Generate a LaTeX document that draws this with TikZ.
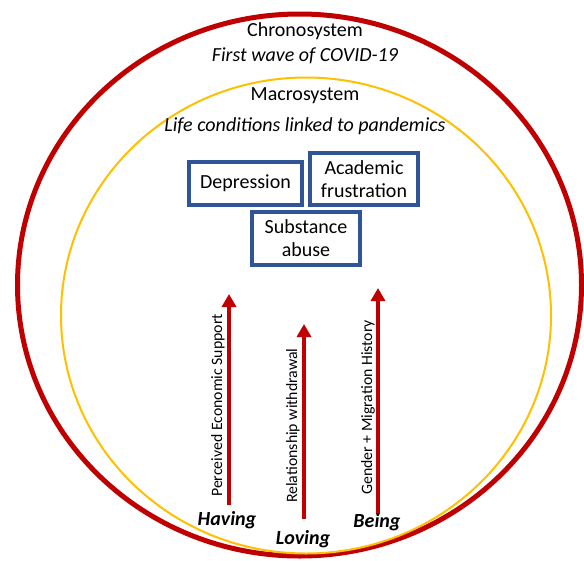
\documentclass[tikz,border=0pt]{standalone}
\usepackage{fontspec}
\setmainfont{Carlito}
\usetikzlibrary{arrows.meta}
\definecolor{cred}{HTML}{C00000}
\definecolor{cyellow}{HTML}{FFC000}
\definecolor{cblue}{HTML}{2F5597}
\begin{document}
\begin{tikzpicture}[x=1pt,y=-1pt,
  sysbox/.style={draw=cblue,line width=4pt,fill=white,align=center,inner sep=2pt,font=\fontsize{20}{23}\selectfont},
  arr/.style={draw=cred,line width=4.5pt,-{Triangle[width=14pt,length=13pt]}},
  rotlab/.style={rotate=90,anchor=west,inner sep=0pt,font=\fontsize{15.8}{18}\selectfont},
  need/.style={font=\fontsize{20}{23}\selectfont\bfseries\itshape,inner sep=0pt},
  title/.style={font=\fontsize{20}{23}\selectfont,inner sep=0pt},
  subtitle/.style={font=\fontsize{20}{23}\selectfont\itshape,inner sep=0pt}]
\useasboundingbox (0,0) rectangle (584,560);
\fill[white] (0,0) rectangle (584,560);
\draw[cred,line width=5pt] (299.5,285) ellipse [x radius=282pt, y radius=271pt];
\draw[cyellow,line width=2pt] (306,315.5) ellipse [x radius=245pt, y radius=238pt];
\node[title] (chrono) at (305,31) {Chronosystem};
\node[subtitle] (covid) at (305,56) {First wave of COVID-19};
\node[title] (macro) at (305,96) {Macrosystem};
\node[subtitle] (life) at (305,126) {Life conditions linked to pandemics};
\node[sysbox,minimum width=113pt,minimum height=43pt] (dep) at (245.5,183.5) {Depression};
\node[sysbox,minimum width=108pt,minimum height=52pt] (acad) at (364,179) {Academic\\frustration};
\node[sysbox,minimum width=108pt,minimum height=53pt] (subst) at (306,238.5) {Substance\\abuse};
\coordinate (h0) at (229,505);
\coordinate (h1) at (229,294);
\coordinate (l0) at (304,519);
\coordinate (l1) at (304,324);
\coordinate (b0) at (378,514);
\coordinate (b1) at (378,288);
\draw[arr] (h0) -- (h1);
\draw[arr] (l0) -- (l1);
\draw[arr] (b0) -- (b1);
\node[rotlab] (pes) at (218,497) {Perceived Economic Support};
\node[rotlab] (rw) at (293,503) {Relationship withdrawal};
\node[rotlab] (gmh) at (368,495) {Gender + Migration History};
\node[need] (having) at (227,520) {Having};
\node[need] (loving) at (303,539) {Loving};
\node[need] (being) at (377,522) {Being};
\end{tikzpicture}
\end{document}
